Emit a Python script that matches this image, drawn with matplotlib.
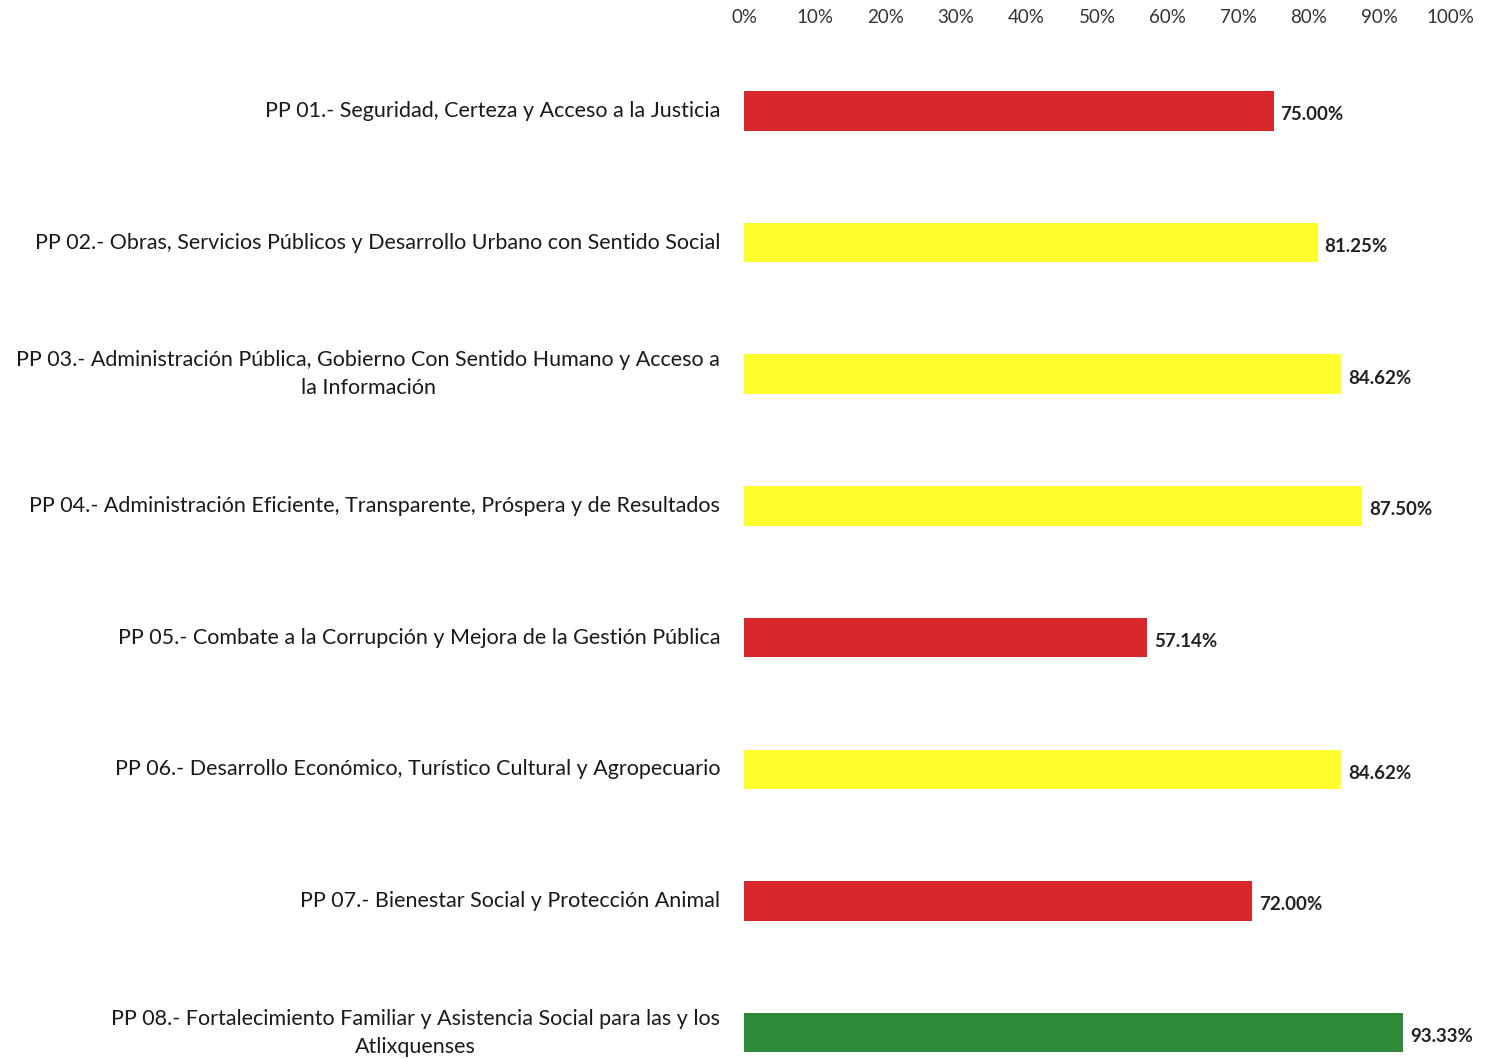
import matplotlib
matplotlib.use("Agg")
from matplotlib import pyplot as plt
from matplotlib.transforms import ScaledTranslation
import numpy as np

plt.rcParams["font.family"] = ["Lato", "DejaVu Sans"]

labels = [
    "PP 01.- Seguridad, Certeza y Acceso a la Justicia",
    "PP 02.- Obras, Servicios Públicos y Desarrollo Urbano con Sentido Social",
    "PP 03.- Administración Pública, Gobierno Con Sentido Humano y Acceso a\nla Información",
    "PP 04.- Administración Eficiente, Transparente, Próspera y de Resultados",
    "PP 05.- Combate a la Corrupción y Mejora de la Gestión Pública",
    "PP 06.- Desarrollo Económico, Turístico Cultural y Agropecuario",
    "PP 07.- Bienestar Social y Protección Animal",
    "PP 08.- Fortalecimiento Familiar y Asistencia Social para las y los\nAtlixquenses",
]
values = [75.00, 81.25, 84.62, 87.50, 57.14, 84.62, 72.00, 93.33]
colors = ["#d8282c", "#ffff2e", "#ffff2e", "#ffff2e", "#d8282c", "#ffff2e", "#d8282c", "#2f8a37"]
ticks = [0, 10, 20, 30, 40, 50, 60, 70, 80, 90, 100]

fig = plt.figure(figsize=(14.89, 10.59), dpi=100)
ax = fig.add_axes([0.4997, 0.0, 0.4741, 0.9575])

y = np.arange(len(values))
ax.barh(y, values, height=0.3, color=colors)

for i, v in enumerate(values):
    ax.text(v + 1.0, i + 0.03, f"{v:.2f}%", va="center", ha="left",
            fontsize=13.5, fontweight="bold", color="#222222")

ax.set_xlim(0, 100)
ax.set_ylim(7.2, -0.5)
ax.set_yticks(y)
ax.set_yticklabels([])
ax.set_xticks(ticks)
ax.set_xticklabels([f"{t}%" for t in ticks], fontsize=13.5, color="#333333")
ax.xaxis.tick_top()
ax.tick_params(axis="x", length=0, pad=14)
ax.tick_params(axis="y", length=0)

# category labels drawn as text, right edge 24 px left of the axis
off = ScaledTranslation(-24 / 100, 0, fig.dpi_scale_trans)
for i, lab in enumerate(labels):
    ax.text(0, i, lab, transform=ax.get_yaxis_transform() + off,
            ha="right", va="center", multialignment="center",
            fontsize=15.5, color="#1a1a1a", linespacing=1.5)

for s in ax.spines.values():
    s.set_visible(False)

fig.savefig("out.png", dpi=100)
